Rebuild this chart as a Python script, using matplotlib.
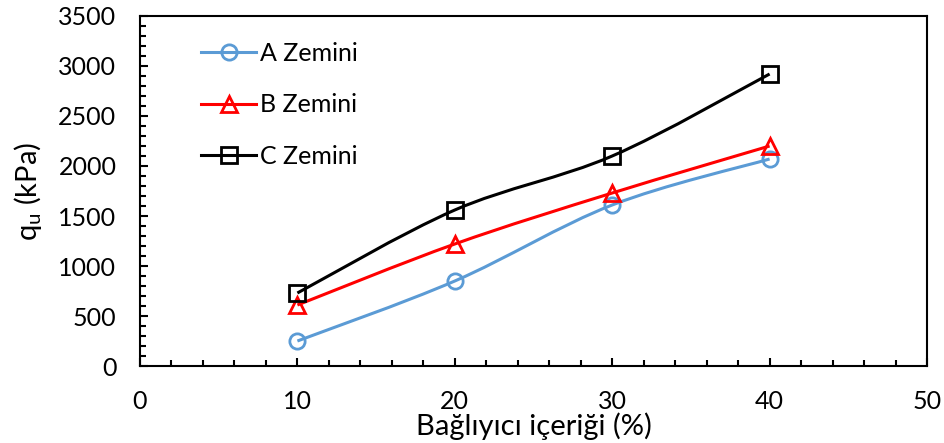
import numpy as np
import matplotlib
matplotlib.use("Agg")
import matplotlib.pyplot as plt
from matplotlib.path import Path
from matplotlib.patches import PathPatch
from matplotlib.lines import Line2D
from matplotlib.ticker import MultipleLocator

plt.rcParams['font.family'] = ['Lato', 'DejaVu Sans']
plt.rcParams['mathtext.fontset'] = 'custom'
plt.rcParams['mathtext.rm'] = 'Lato'
plt.rcParams['mathtext.it'] = 'Lato'
plt.rcParams['mathtext.default'] = 'regular'

# data
binder = [10, 20, 30, 40]
soil_a = [250, 850, 1610, 2070]
soil_b = [610, 1220, 1730, 2200]
soil_c = [730, 1560, 2100, 2920]
labels = ['A Zemini', 'B Zemini', 'C Zemini']


def smooth_path(x, y):
    # bezier curve through the points, like excel's smoothed line
    p = np.column_stack([x, y]).astype(float)
    n = len(p)
    verts = [p[0]]
    codes = [Path.MOVETO]
    for i in range(n - 1):
        p0 = p[i - 1] if i > 0 else p[i]
        p3 = p[i + 2] if i + 2 < n else p[i + 1]
        c1 = p[i] + (p[i + 1] - p0) / 6
        c2 = p[i + 1] - (p3 - p[i]) / 6
        verts += [c1, c2, p[i + 1]]
        codes += [Path.CURVE4] * 3
    return Path(verts, codes)


fig = plt.figure(figsize=(9.44, 4.43), dpi=100)
ax = fig.add_axes([0.1483, 0.1738, 0.8337, 0.7901])

series = [
    (soil_a, '#5B9BD5', 'o'),
    (soil_b, '#FF0000', '^'),
    (soil_c, '#000000', 's'),
]
handles = []
for (vals, col, mk), lab in zip(series, labels):
    ax.add_patch(PathPatch(smooth_path(binder, vals), facecolor='none',
                           edgecolor=col, lw=2.2, zorder=2))
    ax.plot(binder, vals, linestyle='none', marker=mk, ms=11, mfc='none',
            mec=col, mew=2, zorder=3)
    handles.append(Line2D([], [], color=col, lw=2.2, marker=mk, ms=11,
                          mfc='none', mec=col, mew=2, label=lab))

ax.set_xlim(0, 50)
ax.set_ylim(0, 3500)
ax.xaxis.set_major_locator(MultipleLocator(10))
ax.xaxis.set_minor_locator(MultipleLocator(2))
ax.yaxis.set_major_locator(MultipleLocator(500))
ax.yaxis.set_minor_locator(MultipleLocator(100))
ax.tick_params(which='both', direction='in', labelsize=18, width=1.5,
               top=False, right=False)
ax.tick_params(which='major', length=6, pad=17)
ax.tick_params(axis='y', which='major', pad=17)
ax.tick_params(which='minor', length=4)
for s in ax.spines.values():
    s.set_linewidth(1.5)

ax.set_xlabel('Bağlıyıcı içeriği (%)', fontsize=21, labelpad=0)
ax.set_ylabel('q$_u$ (kPa)', fontsize=21, labelpad=10)

ax.legend(handles=handles, loc='upper left', frameon=False, fontsize=18,
          handlelength=2.2, handletextpad=0.15, labelspacing=1.15,
          borderaxespad=0, bbox_to_anchor=(0.065, 0.955))

fig.savefig('out.png', dpi=100)
